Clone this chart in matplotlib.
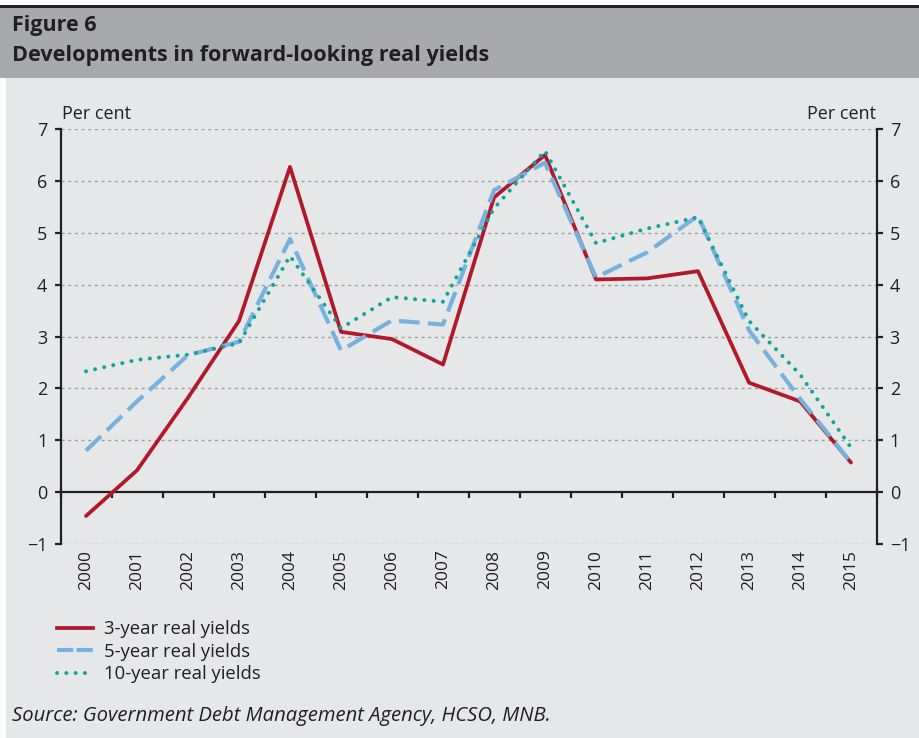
import numpy as np
import matplotlib
matplotlib.use("Agg")
import matplotlib.pyplot as plt
from matplotlib.lines import Line2D

years = [str(y) for y in range(2000, 2016)]
yield_3y = [-0.46, 0.42, 1.82, 3.3, 6.27, 3.09, 2.95, 2.46, 5.68, 6.5, 4.1, 4.12, 4.26, 2.11, 1.75, 0.57]
yield_5y = [0.8, 1.75, 2.64, 2.9, 4.88, 2.73, 3.31, 3.23, 5.82, 6.35, 4.14, 4.62, 5.33, 3.12, 1.8, 0.57]
yield_10y = [2.33, 2.55, 2.65, 2.87, 4.55, 3.16, 3.76, 3.67, 5.47, 6.58, 4.8, 5.08, 5.3, 3.3, 2.27, 0.86]
series_labels = ["3-year real yields", "5-year real yields", "10-year real yields"]
yticks = list(range(-1, 8))

RED = "#B2182B"
BLUE = "#78B1DE"
GREEN = "#12A49A"
PANEL = "#E6E7E8"
HEADER = "#A7A9AC"
INK = "#231F20"

plt.rcParams["font.family"] = ["Open Sans", "DejaVu Sans"]

W, H = 919, 738
fig = plt.figure(figsize=(W / 100, H / 100), dpi=100)
fig.patch.set_facecolor("white")

def px_rect(x0, y0, x1, y1, color):
    fig.patches.append(plt.Rectangle((x0 / W, 1 - y1 / H), (x1 - x0) / W, (y1 - y0) / H,
                                     transform=fig.transFigure, facecolor=color,
                                     edgecolor="none", zorder=-10))

px_rect(6, 78, W, H, PANEL)
px_rect(0, 8, W, 78, HEADER)
px_rect(0, 5, W, 8, INK)

fig.text(12 / W, 1 - 26 / H, "Figure 6", fontsize=15.5, fontweight="bold", color=INK,
         va="center", ha="left")
fig.text(12 / W, 1 - 56 / H, "Developments in forward-looking real yields", fontsize=15.6,
         fontweight="bold", color=INK, va="center", ha="left")

left, right, top, bottom = 60.5, 876.5, 129, 544
ax = fig.add_axes([left / W, 1 - bottom / H, (right - left) / W, (bottom - top) / H])
ax.set_facecolor("none")

x = np.arange(len(years))
ax.plot(x, yield_3y, color=RED, lw=2.7, solid_capstyle="round", zorder=3, label=series_labels[0])
ax.plot(x, yield_5y, color=BLUE, lw=3.0, linestyle=(0, (5.0, 2.0)), dash_capstyle="butt",
        zorder=4, label=series_labels[1])
ax.plot(x, yield_10y, color=GREEN, lw=2.9, linestyle=(0, (0.01, 2.3)), dash_capstyle="round",
        zorder=5, label=series_labels[2])

ax.set_xlim(-0.5, len(years) - 0.5)
ax.set_ylim(-1, 7)
ax.set_yticks(yticks)
ax.set_yticklabels(["\u22121" if t < 0 else str(t) for t in yticks])
for t in yticks:
    if t != 0:
        ax.axhline(t, color="#9D9FA2", lw=1.0, linestyle=(0, (2.2, 2.6)), zorder=1)

for s in ["top", "bottom"]:
    ax.spines[s].set_visible(False)
for s in ["left", "right"]:
    ax.spines[s].set_linewidth(1.6)
    ax.spines[s].set_color(INK)

ax.tick_params(axis="y", which="both", left=True, right=True, labelleft=True, labelright=True,
               direction="out", length=4.5, width=1.6, color=INK, pad=5,
               labelsize=13, labelcolor=INK)
ax.set_xticks(x)
ax.set_xticklabels(years, rotation=90, fontsize=12.5, color=INK)
ax.tick_params(axis="x", length=0, pad=4)

sec = ax.secondary_xaxis(1 / 8)
sec.set_xticks(np.arange(-0.5, len(years), 1))
sec.set_xticklabels([])
sec.spines["bottom"].set_linewidth(1.6)
sec.spines["bottom"].set_color(INK)
sec.tick_params(axis="x", direction="out", length=4.5, width=1.6, color=INK)

fig.text(62 / W, 1 - 114 / H, "Per cent", fontsize=13, color=INK, ha="left", va="center")
fig.text(876 / W, 1 - 114 / H, "Per cent", fontsize=13, color=INK, ha="right", va="center")

handles = [Line2D([], [], color=RED, lw=2.7),
           Line2D([], [], color=BLUE, lw=3.0, linestyle=(0, (3.9, 0.8))),
           Line2D([], [], color=GREEN, lw=2.9, linestyle=(0, (0.01, 2.3)), dash_capstyle="round")]
fig.legend(handles, series_labels, loc="upper left", bbox_to_anchor=(50 / W, 1 - 613 / H),
           frameon=False, fontsize=13.3, handlelength=1.95, handletextpad=0.55,
           labelspacing=0.24, borderaxespad=0, labelcolor=INK)

fig.text(12 / W, 1 - 716 / H, "Source: Government Debt Management Agency, HCSO, MNB.",
         fontsize=14.6, style="italic", color=INK, ha="left", va="center")

fig.savefig("out.png", dpi=100)
